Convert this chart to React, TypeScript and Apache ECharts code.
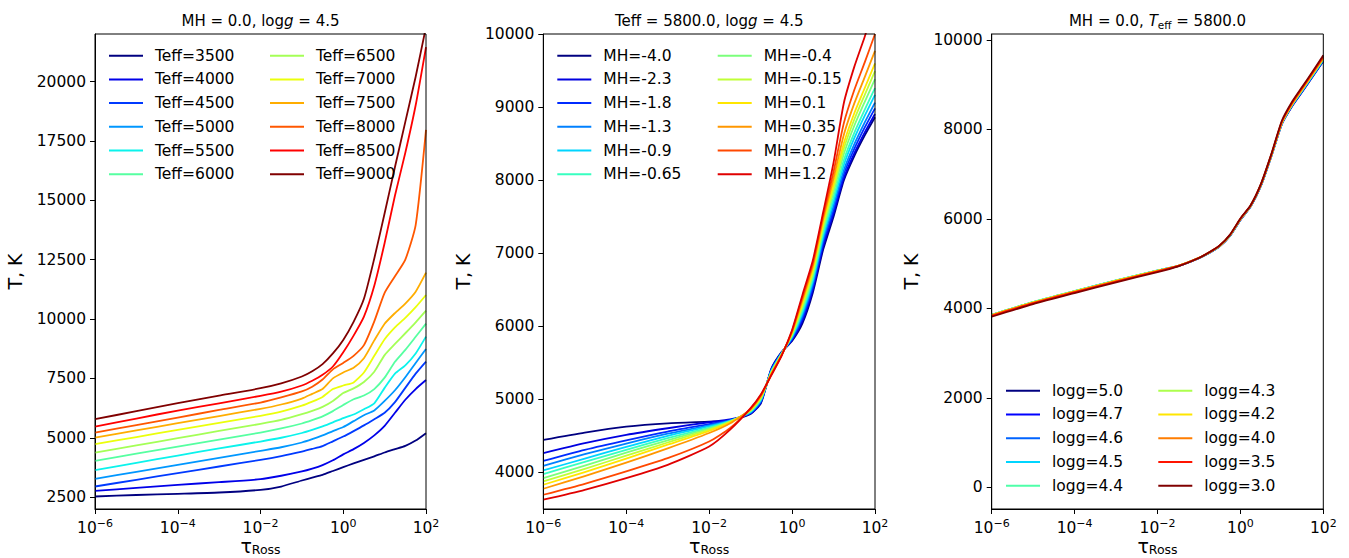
import React, { useEffect, useRef } from 'react';
import * as echarts from 'echarts';

const FONT = 'DejaVu Sans';

// log10(tau_Ross) sampling grid
const logTau = [-6, -5, -4, -3, -2, -1.5, -1, -0.75, -0.5, -0.25, 0, 0.25, 0.5, 0.75, 1, 1.25, 1.5, 1.75, 2];

const xTickLabels = [-6, -4, -2, 0, 2];
const yTicks1 = [2500, 5000, 7500, 10000, 12500, 15000, 17500, 20000];
const yTicks2 = [4000, 5000, 6000, 7000, 8000, 9000, 10000];
const yTicks3 = [0, 2000, 4000, 6000, 8000, 10000];

// Panel 1: MH = 0.0, logg = 4.5
const teffNames = ['Teff=3500', 'Teff=4000', 'Teff=4500', 'Teff=5000', 'Teff=5500', 'Teff=6000',
  'Teff=6500', 'Teff=7000', 'Teff=7500', 'Teff=8000', 'Teff=8500', 'Teff=9000'];
const teffColors = ['#000080', '#0000e9', '#003aff', '#0097ff', '#0bf3ec', '#56ffa1',
  '#a4ff56', '#ebff0b', '#ffad00', '#ff5700', '#ff0000', '#800000'];
const t3500 = [2526, 2590, 2639, 2695, 2807, 2947, 3200, 3320, 3439, 3600, 3761, 3920, 4070, 4220, 4379, 4520, 4659, 4880, 5192];
const t4000 = [2765, 2890, 3018, 3130, 3256, 3400, 3580, 3700, 3850, 4050, 4300, 4520, 4780, 5100, 5500, 6050, 6600, 7050, 7430];
const t4500 = [2947, 3230, 3509, 3790, 4070, 4230, 4420, 4530, 4650, 4850, 5050, 5280, 5520, 5780, 6050, 6500, 7100, 7700, 8209];
const t5000 = [3270, 3565, 3859, 4150, 4449, 4600, 4800, 4940, 5100, 5280, 5450, 5700, 5950, 6150, 6550, 7000, 7550, 8150, 8740];
const t5500 = [3635, 3945, 4252, 4550, 4841, 5000, 5200, 5330, 5480, 5650, 5830, 5980, 6200, 6450, 7100, 7700, 8050, 8550, 9259];
const t6000 = [4028, 4330, 4631, 4925, 5220, 5390, 5600, 5740, 5900, 6120, 6380, 6620, 6780, 7050, 7530, 8200, 8700, 9250, 9806];
const t6500 = [4378, 4680, 4982, 5285, 5585, 5750, 5990, 6130, 6300, 6550, 6880, 7080, 7350, 7780, 8480, 8950, 9400, 9860, 10353];
const t7000 = [4729, 5030, 5332, 5630, 5922, 6100, 6350, 6520, 6720, 7050, 7200, 7330, 7750, 8450, 9150, 9650, 10050, 10500, 11012];
const t7500 = [5010, 5310, 5613, 5915, 6216, 6400, 6650, 6850, 7050, 7500, 7750, 7950, 8350, 9100, 9800, 10250, 10650, 11150, 11950];
const t8000 = [5220, 5535, 5851, 6170, 6483, 6700, 6950, 7150, 7450, 7880, 8150, 8450, 8900, 9900, 11100, 11800, 12500, 13950, 17960];
const t8500 = [5473, 5810, 6146, 6450, 6764, 6940, 7200, 7400, 7650, 8000, 8600, 9300, 10100, 11400, 13200, 15200, 17000, 19000, 21450];
const t9000 = [5780, 6120, 6455, 6770, 7086, 7290, 7580, 7800, 8100, 8550, 9120, 9880, 10850, 12550, 14450, 16400, 18300, 20200, 22300];
const teffValues = [t3500, t4000, t4500, t5000, t5500, t6000, t6500, t7000, t7500, t8000, t8500, t9000];

// Panel 2: Teff = 5800, logg = 4.5
const mhNames = ['MH=-4.0', 'MH=-2.3', 'MH=-1.8', 'MH=-1.3', 'MH=-0.9', 'MH=-0.65',
  'MH=-0.4', 'MH=-0.15', 'MH=0.1', 'MH=0.35', 'MH=0.7', 'MH=1.2'];
const mhColors = ['#000080', '#0000e0', '#002bff', '#0080ff', '#00d5ff', '#37ffc0',
  '#7bff7b', '#c0ff37', '#ffe600', '#ff9700', '#ff4800', '#e00000'];
const mhM40 = [4446, 4546, 4627, 4673, 4696, 4710, 4800, 4950, 5420, 5650, 5800, 6040, 6460, 7050, 7500, 8000, 8330, 8610, 8860];
const mhM23 = [4264, 4400, 4514, 4605, 4687, 4725, 4807, 4961, 5412, 5645, 5814, 6075, 6500, 7096, 7544, 8032, 8367, 8651, 8906];
const mhM18 = [4159, 4310, 4440, 4560, 4660, 4715, 4815, 4972, 5404, 5641, 5827, 6111, 6540, 7143, 7596, 8085, 8428, 8718, 8983];
const mhM13 = [4091, 4250, 4395, 4530, 4645, 4710, 4822, 4983, 5395, 5636, 5841, 6146, 6580, 7189, 7648, 8138, 8489, 8786, 9060];
const mhM09 = [4027, 4190, 4350, 4500, 4630, 4705, 4829, 4994, 5387, 5632, 5855, 6182, 6620, 7235, 7707, 8212, 8574, 8880, 9168];
const mhM065 = [3977, 4145, 4310, 4470, 4615, 4700, 4836, 5005, 5379, 5627, 5868, 6217, 6660, 7282, 7766, 8276, 8647, 8961, 9260];
const mhM04 = [3923, 4095, 4270, 4440, 4600, 4695, 4844, 5015, 5371, 5623, 5882, 6253, 6700, 7328, 7833, 8360, 8745, 9069, 9384];
const mhM015 = [3877, 4050, 4230, 4410, 4585, 4690, 4851, 5026, 5363, 5618, 5895, 6288, 6740, 7375, 7892, 8435, 8830, 9164, 9491];
const mhP01 = [3832, 4005, 4190, 4380, 4570, 4685, 4858, 5037, 5355, 5614, 5909, 6324, 6780, 7421, 7951, 8509, 8916, 9258, 9599];
const mhP035 = [3777, 3950, 4135, 4330, 4540, 4670, 4865, 5048, 5346, 5609, 5923, 6359, 6820, 7467, 8025, 8625, 9050, 9407, 9769];
const mhP07 = [3695, 3845, 4014, 4195, 4423, 4605, 4873, 5059, 5338, 5605, 5936, 6395, 6860, 7514, 8114, 8784, 9233, 9609, 10000];
const mhP12 = [3627, 3763, 3923, 4105, 4355, 4582, 4880, 5070, 5330, 5600, 5950, 6430, 6900, 7560, 8240, 9060, 9550, 9960, 10400];
const mhValues = [mhM40, mhM23, mhM18, mhM13, mhM09, mhM065, mhM04, mhM015, mhP01, mhP035, mhP07, mhP12];

// Panel 3: MH = 0.0, Teff = 5800
const loggNames = ['logg=5.0', 'logg=4.7', 'logg=4.6', 'logg=4.5', 'logg=4.4',
  'logg=4.3', 'logg=4.2', 'logg=4.0', 'logg=3.5', 'logg=3.0'];
const loggColors = ['#000080', '#0000ff', '#0063ff', '#00d5ff', '#4effa9',
  '#adff4d', '#ffe600', '#ff7d00', '#ff1400', '#800000'];
const g50 = [3847, 4130, 4376, 4615, 4840, 4945, 5120, 5240, 5385, 5620, 5975, 6280, 6750, 7410, 8120, 8525, 8855, 9190, 9525];
const g47 = [3852, 4135, 4381, 4620, 4843, 4947, 5122, 5242, 5388, 5623, 5978, 6283, 6755, 7415, 8125, 8532, 8862, 9198, 9535];
const g46 = [3854, 4137, 4383, 4622, 4845, 4949, 5124, 5244, 5390, 5626, 5981, 6286, 6758, 7419, 8130, 8540, 8872, 9208, 9545];
const g45 = [3857, 4140, 4386, 4625, 4847, 4951, 5126, 5246, 5392, 5629, 5985, 6289, 6762, 7423, 8135, 8548, 8882, 9220, 9558];
const g44 = [3857, 4140, 4385, 4624, 4846, 4952, 5128, 5248, 5395, 5632, 5988, 6292, 6766, 7427, 8140, 8556, 8892, 9230, 9568];
const g43 = [3854, 4137, 4383, 4622, 4844, 4952, 5129, 5249, 5397, 5635, 5992, 6295, 6770, 7431, 8145, 8563, 8900, 9240, 9578];
const g42 = [3850, 4133, 4379, 4618, 4841, 4952, 5130, 5250, 5399, 5637, 5995, 6297, 6774, 7435, 8150, 8570, 8910, 9250, 9590];
const g40 = [3842, 4125, 4371, 4610, 4835, 4951, 5131, 5252, 5401, 5640, 5998, 6300, 6778, 7440, 8160, 8580, 8920, 9260, 9605];
const g35 = [3832, 4115, 4361, 4600, 4825, 4948, 5130, 5253, 5404, 5644, 6003, 6305, 6785, 7448, 8175, 8600, 8942, 9282, 9630];
const g30 = [3812, 4095, 4342, 4582, 4810, 4940, 5127, 5254, 5407, 5649, 6010, 6312, 6795, 7460, 8195, 8625, 8965, 9305, 9660];
const loggValues = [g50, g47, g46, g45, g44, g43, g42, g40, g35, g30];

const GRIDS = [
  { left: 95, top: 34, width: 331, height: 475 },
  { left: 543.3, top: 34, width: 331.7, height: 475 },
  { left: 991.7, top: 34, width: 331.6, height: 475 },
];

function xLabel(v: number) {
  if (xTickLabels.indexOf(v) < 0) return '';
  const s = v < 0 ? '\u2212' + Math.abs(v) : String(v);
  return '{b|10}{s|' + s + '}';
}

function mkX(gi: number) {
  return {
    type: 'value', gridIndex: gi, min: -6, max: 2, interval: 2,
    axisLine: { show: true, onZero: false, lineStyle: { color: '#000', width: 1 } },
    axisTick: { show: true, length: 5, lineStyle: { color: '#000', width: 1 } },
    axisLabel: {
      margin: 9, showMinLabel: true, showMaxLabel: true, formatter: xLabel,
      rich: {
        b: { fontSize: 15.5, fontFamily: FONT, color: '#000', lineHeight: 18, verticalAlign: 'bottom' },
        s: { fontSize: 11, fontFamily: FONT, color: '#000', lineHeight: 10, verticalAlign: 'top' },
      },
    },
    splitLine: { show: false },
    name: '{t|\u03c4}{s|Ross}', nameLocation: 'middle', nameGap: 27, nameMoveOverlap: false,
    nameTextStyle: {
      rich: {
        t: { fontSize: 19, fontFamily: FONT, color: '#000', lineHeight: 20, verticalAlign: 'top' },
        s: { fontSize: 12.5, fontFamily: FONT, color: '#000', lineHeight: 12, verticalAlign: 'bottom' },
      },
    },
  };
}

function mkY(gi: number, min: number, max: number, ticks: number[], gap: number) {
  return {
    type: 'value', gridIndex: gi, min, max,
    axisLine: { show: true, onZero: false, lineStyle: { color: '#000', width: 1 } },
    axisTick: { show: true, length: 5, customValues: ticks, lineStyle: { color: '#000', width: 1 } },
    axisLabel: {
      margin: 9, customValues: ticks, fontSize: 15.5, fontFamily: FONT, color: '#000',
      formatter: (v: number) => String(v),
    },
    splitLine: { show: false },
    name: 'T, K', nameLocation: 'middle', nameRotate: 90, nameGap: gap,
    nameTextStyle: { fontSize: 19, fontFamily: FONT, color: '#000' },
  };
}

function mkLegend(names: string[], left: number, top: number, gap: number) {
  return {
    data: names, orient: 'vertical', left, top, padding: 0, itemGap: gap,
    itemWidth: 34, itemHeight: 2, icon: 'rect', selectedMode: false,
    textStyle: { fontSize: 15.5, fontFamily: FONT, color: '#000', lineHeight: 18, padding: [0, 0, 0, 7] },
  };
}

function mkSeries(names: string[], values: number[][], colors: string[], gi: number) {
  return names.map((name, k) => ({
    type: 'line', name, xAxisIndex: gi, yAxisIndex: gi,
    data: logTau.map((x, i) => [x, values[k][i]]),
    showSymbol: false, symbol: 'none', smooth: 0.2,
    lineStyle: { width: 1.8, color: colors[k], join: 'round' }, itemStyle: { color: colors[k] },
    emphasis: { disabled: true }, silent: true, z: 2,
  }));
}

function titleText(x: number, text: string) {
  return {
    type: 'text', x, y: 20.7, silent: true,
    style: {
      text, align: 'center', verticalAlign: 'middle', textAlign: 'center', textVerticalAlign: 'middle',
      fill: '#000', fontSize: 15, fontFamily: FONT,
      rich: {
        n: { fontSize: 15, fontFamily: FONT, fill: '#000', lineHeight: 20, verticalAlign: 'middle' },
        i: { fontSize: 15, fontFamily: FONT, fontStyle: 'italic', fill: '#000', lineHeight: 20, verticalAlign: 'middle' },
        sub: { fontSize: 10.5, fontFamily: FONT, fill: '#000', lineHeight: 12, verticalAlign: 'bottom' },
      },
    },
  };
}

export default function App() {
  const ref = useRef<HTMLDivElement>(null);
  useEffect(() => {
    if (!ref.current) return;
    const chart = echarts.init(ref.current, undefined, { renderer: 'svg' });
    chart.setOption({
      animation: false,
      backgroundColor: '#fff',
      grid: GRIDS.map((g) => ({
        ...g, show: true, borderColor: '#000', borderWidth: 1, backgroundColor: 'transparent', z: 3,
        containLabel: false, outerBoundsMode: 'none',
      })),
      xAxis: [mkX(0), mkX(1), mkX(2)],
      yAxis: [
        mkY(0, 2000, 22000, yTicks1, 71),
        mkY(1, 3500, 10000, yTicks2, 71),
        mkY(2, -486, 10134, yTicks3, 71),
      ],
      legend: [
        mkLegend(teffNames.slice(0, 6), 109, 46.7, 5.7),
        mkLegend(teffNames.slice(6), 270, 46.7, 5.7),
        mkLegend(mhNames.slice(0, 6), 557.3, 46.7, 5.7),
        mkLegend(mhNames.slice(6), 717.7, 46.7, 5.7),
        mkLegend(loggNames.slice(0, 5), 1006, 381.7, 5.75),
        mkLegend(loggNames.slice(5), 1158.3, 381.7, 5.75),
      ],
      graphic: [
        titleText(260.5, '{n|MH = 0.0, log}{i|g}{n| = 4.5}'),
        titleText(709.2, '{n|Teff = 5800.0, log}{i|g}{n| = 4.5}'),
        titleText(1157.5, '{n|MH = 0.0, }{i|T}{sub|eff}{n| = 5800.0}'),
      ],
      series: [
        ...mkSeries(teffNames, teffValues, teffColors, 0),
        ...mkSeries(mhNames, mhValues, mhColors, 1),
        ...mkSeries(loggNames, loggValues, loggColors, 2),
      ],
    });
    return () => chart.dispose();
  }, []);
  return <div ref={ref} style={{ position: 'absolute', left: 0, top: 0, width: 1349, height: 558 }} />;
}
